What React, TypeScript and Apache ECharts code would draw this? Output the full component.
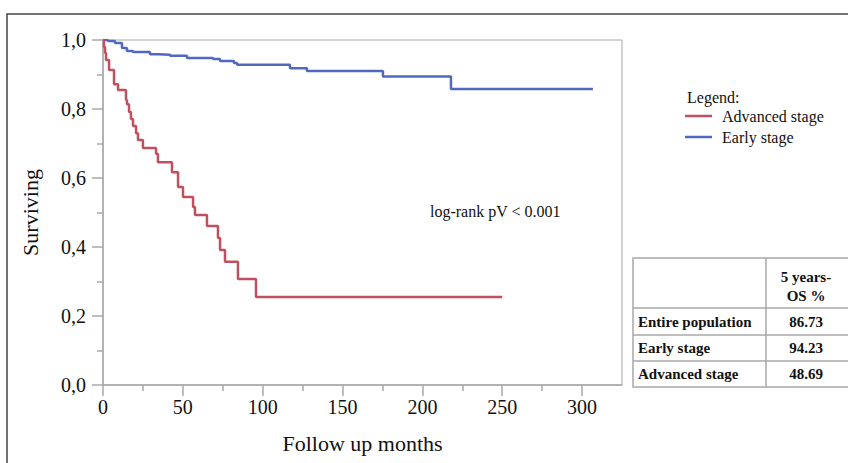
import React, { useEffect, useRef } from 'react';
import * as echarts from 'echarts';

const xTickValues = [0, 50, 100, 150, 200, 250, 300];
const xMinorTickValues = [25, 75, 125, 175, 225, 275];
const yTickValues = [0, 0.2, 0.4, 0.6, 0.8, 1.0];

const advancedMonths = [0, 0.6, 1.3, 1.9, 3.8, 6.9, 9.4, 14.4, 15, 16.3, 17.5, 18.8, 20.7, 21.9, 25, 33.2, 34.4, 43.2, 47, 50.1, 56.4, 57.6, 65.1, 72, 73.3, 76.4, 84.5, 95.8, 250];
const advancedSurv = [1, 0.98, 0.962, 0.942, 0.913, 0.872, 0.855, 0.826, 0.814, 0.791, 0.771, 0.751, 0.73, 0.71, 0.687, 0.67, 0.646, 0.617, 0.574, 0.545, 0.516, 0.493, 0.461, 0.426, 0.391, 0.357, 0.307, 0.255, 0.255];

const earlyMonths = [0, 3.1, 7.5, 11.9, 15, 18.8, 29.4, 34.4, 42, 52.6, 68.9, 73.3, 82, 84, 117.1, 127.7, 175.3, 217.9, 306.8];
const earlySurv = [1, 0.997, 0.991, 0.977, 0.968, 0.965, 0.959, 0.957, 0.954, 0.948, 0.945, 0.939, 0.933, 0.928, 0.918, 0.91, 0.894, 0.858, 0.858];

const tableHeader = ['5 years-', 'OS %'];
const tableRows = ['Entire population', 'Early stage', 'Advanced stage'];
const tableValues = ['86.73', '94.23', '48.69'];

const RED = '#c0505f';
const BLUE = '#5068c2';
const SERIF = '"Liberation Serif", "DejaVu Serif", serif';
const GRAY = '#a8a8a8';

export default function App() {
  const ref = useRef<HTMLDivElement>(null);
  useEffect(() => {
    if (!ref.current) return;
    const chart = echarts.init(ref.current, undefined, { renderer: 'svg' });

    const tableX0 = 633, tableX1 = 849, colX = 766;
    const rowYs = [258, 308, 335, 361, 387];
    const tableGraphics: any[] = [];
    tableGraphics.push({
      type: 'rect', shape: { x: tableX0, y: rowYs[0], width: tableX1 - tableX0, height: rowYs[4] - rowYs[0] },
      style: { fill: 'none', stroke: GRAY, lineWidth: 1.5 },
    });
    for (let i = 1; i < 4; i++) {
      tableGraphics.push({ type: 'line', shape: { x1: tableX0, y1: rowYs[i], x2: tableX1, y2: rowYs[i] }, style: { stroke: GRAY, lineWidth: 1.5 } });
    }
    tableGraphics.push({ type: 'line', shape: { x1: colX, y1: rowYs[0], x2: colX, y2: rowYs[4] }, style: { stroke: GRAY, lineWidth: 1.5 } });
    tableHeader.forEach((t, i) => {
      tableGraphics.push({ type: 'text', x: 806, y: 277 + i * 19, style: { text: t, font: `bold 15px ${SERIF}`, fill: '#111', align: 'center', verticalAlign: 'middle' } });
    });
    tableRows.forEach((t, i) => {
      const cy = (rowYs[i + 1] + rowYs[i + 2]) / 2;
      tableGraphics.push({ type: 'text', x: 638, y: cy, style: { text: t, font: `bold 15px ${SERIF}`, fill: '#111', align: 'left', verticalAlign: 'middle' } });
      tableGraphics.push({ type: 'text', x: 806, y: cy, style: { text: tableValues[i], font: `bold 15px ${SERIF}`, fill: '#111', align: 'center', verticalAlign: 'middle' } });
    });

    chart.setOption({
      animation: false,
      backgroundColor: '#fff',
      grid: { left: 103, top: 40, right: 226, bottom: 78, show: true, borderColor: GRAY, borderWidth: 1 },
      xAxis: [
        {
          type: 'value', min: 0, max: 325, interval: 25,
          name: 'Follow up months', nameLocation: 'middle', nameGap: 47,
          nameTextStyle: { fontFamily: SERIF, fontSize: 22, color: '#111' },
          axisLine: { lineStyle: { color: GRAY, width: 1.5 } },
          axisTick: { show: true, length: 6, customValues: xMinorTickValues, lineStyle: { color: GRAY, width: 1.5 } },
          axisLabel: {
            customValues: xTickValues, margin: 12, fontFamily: SERIF, fontSize: 20, color: '#111',
            formatter: (v: number) => (xTickValues.includes(v) ? String(v) : ''),
          },
          splitLine: { show: false },
        },
        {
          type: 'value', min: 0, max: 325, interval: 25, position: 'bottom',
          axisLine: { show: false },
          axisTick: { show: true, length: 11, customValues: xTickValues, lineStyle: { color: GRAY, width: 1.5 } },
          axisLabel: { show: false },
          splitLine: { show: false },
        },
      ],
      yAxis: {
        type: 'value', min: 0, max: 1, interval: 0.2,
        name: 'Surviving', nameLocation: 'middle', nameGap: 62,
        nameTextStyle: { fontFamily: SERIF, fontSize: 22, color: '#111' },
        axisLine: { show: true, lineStyle: { color: GRAY, width: 1.5 } },
        axisTick: { show: true, length: 11, lineStyle: { color: GRAY, width: 1.5 } },
        minorTick: { show: true, splitNumber: 2, length: 6, lineStyle: { color: GRAY, width: 1.5 } },
        axisLabel: {
          margin: 17, fontFamily: SERIF, fontSize: 20, color: '#111',
          formatter: (v: number) => (yTickValues.some((t) => Math.abs(t - v) < 1e-6) ? v.toFixed(1).replace('.', ',') : ''),
        },
        splitLine: { show: false },
        minorSplitLine: { show: false },
      },
      legend: {
        orient: 'vertical', left: 685, top: 108, padding: 0, itemGap: 5,
        itemWidth: 27, itemHeight: 2.5, icon: 'rect',
        data: ['Advanced stage', 'Early stage'],
        textStyle: { fontFamily: SERIF, fontSize: 16, color: '#111', padding: [0, 0, 0, 5] },
      },
      series: [
        {
          name: 'Early stage', type: 'line', step: 'end', showSymbol: false, xAxisIndex: 0,
          data: earlyMonths.map((m, i) => [m, earlySurv[i]]),
          lineStyle: { color: BLUE, width: 2.5 }, itemStyle: { color: BLUE },
        },
        {
          name: 'Advanced stage', type: 'line', step: 'end', showSymbol: false, xAxisIndex: 0,
          data: advancedMonths.map((m, i) => [m, advancedSurv[i]]),
          lineStyle: { color: RED, width: 2.5 }, itemStyle: { color: RED },
        },
      ],
      graphic: [
        { type: 'rect', shape: { x: 7, y: 14, width: 900, height: 500 }, style: { fill: 'none', stroke: '#444', lineWidth: 1.5 } },
        { type: 'text', x: 687, y: 97, style: { text: 'Legend:', font: `16px ${SERIF}`, fill: '#111', verticalAlign: 'middle' } },
        { type: 'text', x: 430, y: 211, style: { text: 'log-rank pV < 0.001', font: `16px ${SERIF}`, fill: '#111', verticalAlign: 'middle' } },
        ...tableGraphics,
      ],
    });
    return () => chart.dispose();
  }, []);
  return <div ref={ref} style={{ position: 'absolute', left: 0, top: 0, width: 848, height: 463 }} />;
}
